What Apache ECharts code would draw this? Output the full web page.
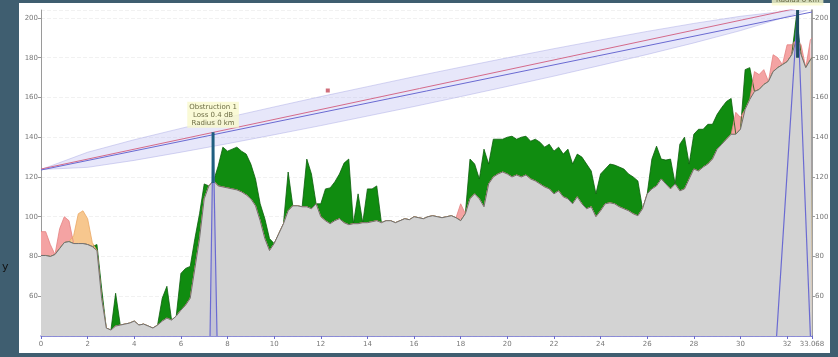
<!DOCTYPE html>
<html>
<head>
<meta charset="utf-8">
<script src="https://cdn.jsdelivr.net/npm/echarts@6/dist/echarts.min.js"></script>
<style>
  html, body { margin: 0; padding: 0; background: #3f5e70; }
  #chart { width: 838px; height: 357px; }
</style>
</head>
<body>
<div id="chart"></div>
<script>
// profile sampled every 0.2 km, last point is the path end
const stepKm = 0.2;
const pathEndKm = 33.068;

// ground height
const terrain = [
  80.5, 80.5, 80, 81, 84, 87, 87.5, 86.5, 86.5, 86.5,
  86, 85, 83, 59, 44, 43, 45, 45.5, 46, 46.5,
  47.5, 45.5, 46, 45, 44, 45.5, 47.5, 49, 48, 50,
  53, 55.5, 59, 74, 89, 109, 115.5, 118, 115.5, 115,
  114.5, 114, 113.5, 112.5, 111, 109, 105.5, 98, 89, 83,
  86.5, 91.5, 96.5, 103, 105.5, 105.5, 105, 105, 104, 106.5,
  100, 98, 96.5, 98, 99, 97, 96, 96.5, 96.5, 97,
  97, 97.5, 98, 97, 98, 98, 97, 98, 99, 98.5,
  100, 99.5, 99, 100, 100.5, 100, 99.5, 100, 100.5, 99.5,
  98, 101.5, 109, 111.5, 109, 105, 116.5, 120, 121.5, 122.5,
  121.5, 120, 121, 120, 121, 119, 118, 116.5, 115, 114,
  111.5, 113, 110, 109, 106.5, 110, 106.5, 104, 105, 100,
  103, 106.5, 107, 106.5, 105, 104, 103, 101.5, 100.5, 104,
  111.5, 114, 115.5, 119, 116.5, 114, 116.5, 113, 114, 119,
  124, 123, 125, 126.5, 129, 134, 136.5, 139, 141.5, 141.5,
  144, 154, 159, 163, 164, 166.5, 168, 173, 175, 176.5,
  178, 181.5, 189, 181.5, 175, 179, 180
];

// clutter height above ground
const clutterH = [
  12, 12, 6, 0, 10, 13, 10.5, 4, 15, 16.5,
  13, 2, 3, 5, 0, 0, 16.5, 0, 0, 0,
  0, 0, 0, 0, 0, 0, 11.5, 16, 0, 0,
  18.5, 18.5, 16, 15, 12.5, 7.5, 0, 0, 10, 20,
  18.5, 20, 21.5, 20.5, 20.5, 17.5, 13.5, 8.5, 10, 6,
  0, 0, 0, 19.5, 0, 0, 0, 24, 17.5, 0,
  6.5, 16, 18, 19.5, 22.5, 30, 33, 0, 15, 0,
  17, 16.5, 17.5, 0, 0, 0, 0, 0, 0, 0,
  0, 0, 0, 0, 0, 0, 0, 0, 0, 0,
  8.5, 0, 20, 15, 10, 29, 10, 19, 17.5, 16.5,
  18.5, 20.5, 18, 20, 19.5, 19, 21, 21, 20, 22.5,
  21.5, 22, 21.5, 25, 20, 21.5, 23.5, 22.5, 18, 11.5,
  18.5, 17.5, 19.5, 19.5, 20, 20, 18.5, 18.5, 17.5, 0,
  0, 15, 20, 10, 12, 15, 0, 23.5, 26, 7.5,
  17.5, 21, 19, 20, 17.5, 17.5, 18.5, 19, 18, 11,
  6, 20, 16, 10, 7.5, 7.5, 0, 8.5, 5, 0,
  8.5, 5, 12, 5, 0, 10, 10
];

// g = trees, r = buildings, o = other
const clutterKind = (
  "rrr-rrrooo" + "oogg--g---" + "------gg--" + "gggggg--gg" + "gggggggggg" +
  "---g---gg-" + "ggggggg-g-" + "ggg-------" + "----------" + "r-gggggggg" +
  "gggggggggg" + "gggggggggg" + "ggggggggg-" + "-ggggg-ggg" + "gggggggggr" +
  "rggrrr-rr-" + "rrgr-rr"
).split("");

// line of sight, end points
const losKm = [0, 33.068];
const losTop = [124, 206.5];
const losBottom = [123.5, 203];

// fresnel zone radius
const fresnelKm = [0, 2, 4, 6, 8, 10, 12, 14, 16, 18, 20, 22, 24, 26, 28, 30, 32, 33.068];
const fresnelR = [0, 3.8, 5.2, 6, 6.6, 7, 7.3, 7.4, 7.5, 7.4, 7.2, 6.9, 6.4, 5.8, 4.9, 3.6, 1.4, 0];

// obstructions: foot left, peak, foot right
const obs1 = [[7.25, 40], [7.38, 142.5], [7.55, 40]];
const obs1Core = [[7.38, 142.5], [7.38, 117]];
const obs2 = [[31.55, 40], [32.45, 204], [33.0, 40]];
const obs2Core = [[32.45, 204], [32.45, 180]];

const marker = [[12.3, 163.5]];

const distKm = terrain.map((v, i) => (i < 166 ? +(i * stepKm).toFixed(1) : pathEndKm));

function losAt(km) {
  let t = (km - losKm[0]) / (losKm[1] - losKm[0]);
  let a = losTop[0] + (losTop[1] - losTop[0]) * t;
  let b = losBottom[0] + (losBottom[1] - losBottom[0]) * t;
  return (a + b) / 2;
}

function clutterSeries(kind, area, line) {
  return {
    type: "line",
    symbol: "none",
    z: 2,
    data: distKm.map((d, i) => [d, clutterKind[i] === kind ? terrain[i] + clutterH[i] : terrain[i]]),
    lineStyle: { color: line, width: 0.8 },
    areaStyle: { color: area, opacity: 1 },
  };
}

let myChart = echarts.init(document.getElementById("chart"));
let option = {
  animation: false,
  backgroundColor: "#3f5e70",
  graphic: [
    { type: "rect", z: -100, shape: { x: 19, y: 3, width: 811, height: 350 }, style: { fill: "#ffffff" } },
    { type: "text", z: 100, left: 2, top: 262, style: { text: "y", fill: "#111", font: "11px DejaVu Sans" } },
  ],
  grid: { left: 41, right: 26, top: 10, bottom: 21 },
  xAxis: {
    type: "value",
    min: 0,
    max: pathEndKm,
    interval: 2,
    axisLine: { lineStyle: { color: "#6a6acc", width: 1.5 } },
    axisTick: { length: 3, lineStyle: { color: "#6a6acc" } },
    axisLabel: { color: "#777", fontSize: 7, margin: 5, fontFamily: "DejaVu Sans" },
    splitLine: { show: false },
  },
  yAxis: [
    {
      type: "value",
      min: 40,
      max: 204,
      interval: 20,
      position: "left",
      axisLine: { show: true, lineStyle: { color: "#9a9a9a" } },
      axisTick: { show: true, length: 3, lineStyle: { color: "#9a9a9a" } },
      axisLabel: { color: "#777", fontSize: 7, margin: 3, showMinLabel: false, showMaxLabel: false, fontFamily: "DejaVu Sans" },
      splitLine: { lineStyle: { color: "#f1f1f1", type: "dashed" } },
    },
    {
      type: "value",
      min: 40,
      max: 204,
      interval: 20,
      position: "right",
      axisLine: { show: true, lineStyle: { color: "#808080", width: 1.5 } },
      axisTick: { show: true, length: 3, lineStyle: { color: "#9a9a9a" } },
      axisLabel: { color: "#777", fontSize: 7, margin: 3, showMinLabel: false, showMaxLabel: false, fontFamily: "DejaVu Sans" },
      splitLine: { show: false },
    },
  ],
  series: [
    clutterSeries("g", "#108c10", "#0b5e0b"),
    clutterSeries("r", "#f4a3a3", "#e58080"),
    clutterSeries("o", "#f7c78e", "#eaa866"),
    //地形
    {
      type: "line",
      symbol: "none",
      z: 3,
      data: distKm.map((d, i) => [d, terrain[i]]),
      lineStyle: { color: "#707070", width: 1 },
      areaStyle: { color: "#d3d3d3", opacity: 1 },
    },
    //菲涅尔区
    {
      type: "custom",
      z: 4,
      data: [[0, losTop[0]]],
      renderItem: function (params, api) {
        let up = fresnelKm.map((d, i) => api.coord([d, losAt(d) + fresnelR[i]]));
        let lo = fresnelKm.map((d, i) => api.coord([d, losAt(d) - fresnelR[i]])).reverse();
        let cs = params.coordSys;
        return {
          type: "polygon",
          shape: { points: up.concat(lo) },
          clipPath: { type: "rect", shape: { x: cs.x, y: cs.y, width: cs.width, height: cs.height } },
          style: { fill: "rgba(180,180,240,0.32)", stroke: "rgba(160,160,225,0.55)", lineWidth: 0.8 },
        };
      },
    },
    {
      type: "line",
      symbol: "none",
      z: 5,
      data: losKm.map((d, i) => [d, losTop[i]]),
      lineStyle: { color: "#d46a8a", width: 1 },
    },
    {
      type: "line",
      symbol: "none",
      z: 5,
      data: losKm.map((d, i) => [d, losBottom[i]]),
      lineStyle: { color: "#6a6ad2", width: 1 },
    },
    //障碍物
    {
      type: "line",
      symbol: "none",
      z: 6,
      data: obs1,
      lineStyle: { color: "#6a6ad2", width: 1.2 },
      areaStyle: { color: "rgba(130,130,220,0.25)" },
    },
    {
      type: "line",
      symbol: "none",
      z: 7,
      data: obs1Core,
      lineStyle: { color: "#1f5f80", width: 3 },
    },
    {
      type: "line",
      symbol: "none",
      z: 6,
      data: obs2,
      lineStyle: { color: "#6a6ad2", width: 1.2 },
    },
    {
      type: "line",
      symbol: "none",
      z: 7,
      data: obs2Core,
      lineStyle: { color: "#1d4d5e", width: 3 },
    },
    {
      type: "scatter",
      z: 8,
      symbolSize: 1,
      itemStyle: { color: "rgba(0,0,0,0)" },
      data: [
        {
          value: obs1[1],
          label: { show: true, formatter: "Obstruction 1\nLoss 0.4 dB\nRadius 0 km" },
        },
        {
          value: obs2[1],
          label: { show: true, formatter: "Obstruction 2\nLoss 2.6 dB\nRadius 0 km" },
        },
      ],
      label: {
        position: "top",
        distance: 4,
        fontSize: 7,
        lineHeight: 8,
        color: "#4a4a20",
        fontFamily: "DejaVu Sans",
        backgroundColor: "#f9f9cc",
        padding: [1, 2],
      },
    },
    {
      type: "scatter",
      z: 8,
      symbol: "rect",
      symbolSize: 4,
      itemStyle: { color: "#c44a5a" },
      data: marker,
    },
  ],
};
myChart.setOption(option);
</script>
</body>
</html>
